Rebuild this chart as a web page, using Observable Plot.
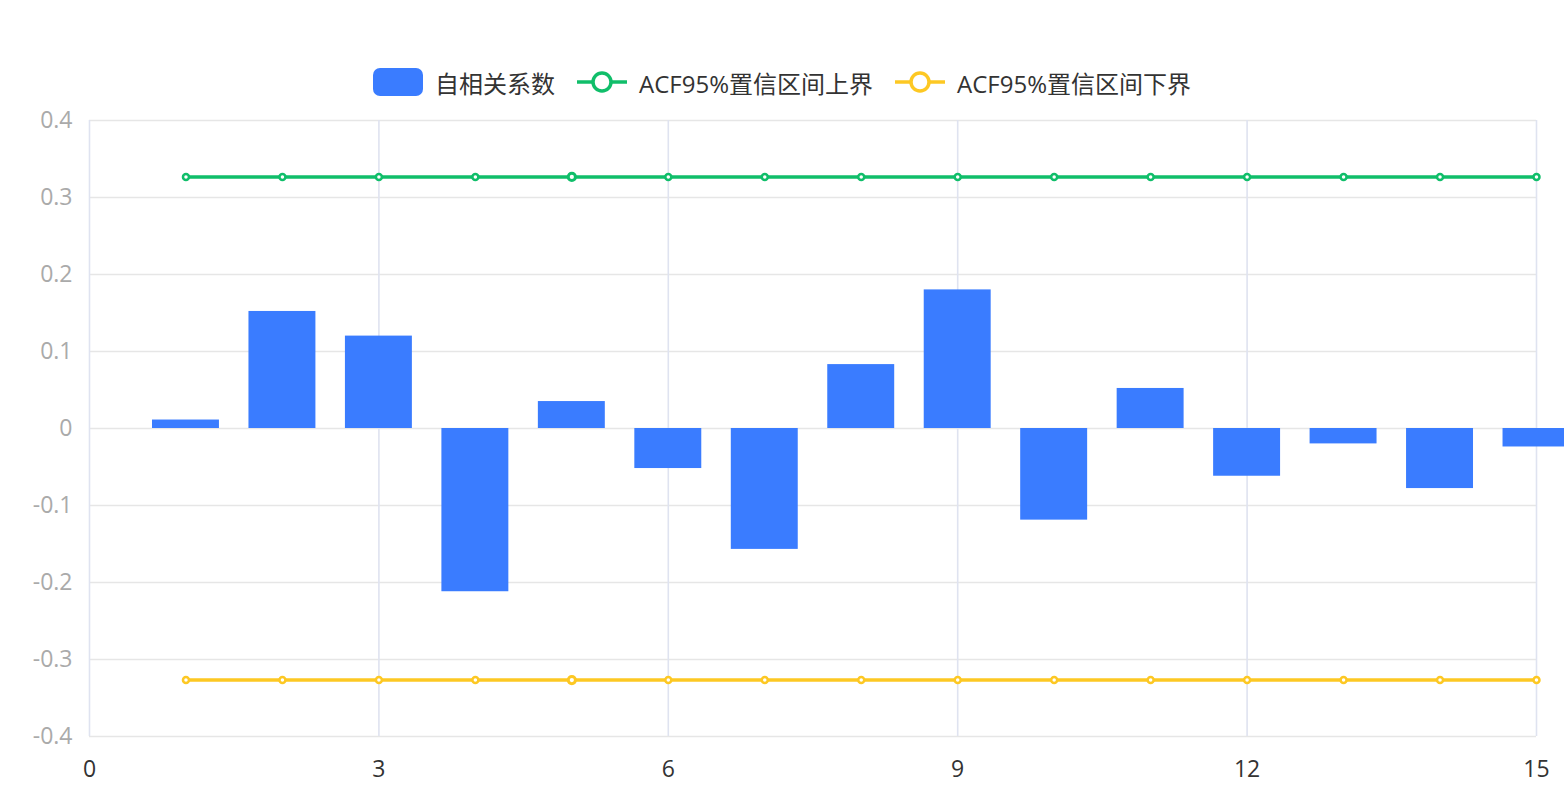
<!DOCTYPE html>
<html><head><meta charset="utf-8">
<script src="https://cdn.jsdelivr.net/npm/d3@7"></script>
<script src="https://cdn.jsdelivr.net/npm/@observablehq/plot@0.6"></script>
<style>
body{margin:0;background:#fff;font-family:"Open Sans","Noto Sans CJK SC","Noto Sans",sans-serif;}
#wrap{position:relative;width:1564px;height:799px;overflow:hidden;}
#legend{position:absolute;top:67px;left:0;width:1564px;height:30px;display:flex;justify-content:center;align-items:center;font-size:24px;color:#333;z-index:2;}
.item{display:flex;align-items:center;margin:0 11px;}
.item svg{margin-right:12px;}
</style>
</head><body>
<div id="wrap"><div id="legend"></div><div id="chart"></div></div>
<script>
const lags = [1,2,3,4,5,6,7,8,9,10,11,12,13,14,15];
const acf = [0.011,0.152,0.120,-0.212,0.035,-0.052,-0.157,0.083,0.180,-0.119,0.052,-0.062,-0.020,-0.078,-0.024];
const upperBound = [0.3267,0.3267,0.3267,0.3267,0.3267,0.3267,0.3267,0.3267,0.3267,0.3267,0.3267,0.3267,0.3267,0.3267,0.3267];
const lowerBound = [-0.3267,-0.3267,-0.3267,-0.3267,-0.3267,-0.3267,-0.3267,-0.3267,-0.3267,-0.3267,-0.3267,-0.3267,-0.3267,-0.3267,-0.3267];
const seriesNames = ["自相关系数","ACF95%置信区间上界","ACF95%置信区间下界"];
const xTicks = [0,3,6,9,12,15];
const yTicks = [-0.4,-0.3,-0.2,-0.1,0,0.1,0.2,0.3,0.4];
const highlightLag = 5;

const BLUE = "#3a7cff", GREEN = "#10be6a", YELLOW = "#fdc823";
const FONT = '"Open Sans","Noto Sans CJK SC","Noto Sans",sans-serif';
const data = lags.map((l,i)=>({lag:l, acf:acf[i], up:upperBound[i], lo:lowerBound[i]}));
const halfW = 0.347;

const chart = Plot.plot({
  width:1564, height:799,
  marginLeft:89, marginRight:28, marginTop:120, marginBottom:63,
  x:{domain:[0,15]},
  y:{domain:[-0.4,0.4]},
  style:{fontFamily:FONT, fontSize:"23px", background:"white", overflow:"visible"},
  marks:[
    Plot.gridY(yTicks,{stroke:"#e6e6e6",strokeOpacity:1,strokeWidth:1.6}),
    Plot.gridX(xTicks.filter(d=>d>0),{stroke:"#dfe3f0",strokeOpacity:1,strokeWidth:1.6}),
    Plot.ruleX([0],{stroke:"#dfe3f0",strokeWidth:1.6}),
    Plot.axisY(yTicks,{tickSize:0,tickPadding:17,fill:"#aaaaaa",tickFormat:d=>d===0?"0":d.toFixed(1),fontSize:23,label:null}),
    Plot.axisX(xTicks,{tickSize:0,tickPadding:24,fill:"#333333",fontSize:23,label:null}),
    Plot.rect(data,{x1:d=>d.lag-halfW,x2:d=>d.lag+halfW,y1:0,y2:"acf",fill:BLUE}),
    Plot.line(data,{x:"lag",y:"up",stroke:GREEN,strokeWidth:3.4}),
    Plot.line(data,{x:"lag",y:"lo",stroke:YELLOW,strokeWidth:3.4}),
    Plot.dot(data,{x:"lag",y:"up",r:d=>d.lag===highlightLag?5.8:4,fill:"white",stroke:GREEN,strokeWidth:d=>d.lag===highlightLag?3:2.5}),
    Plot.dot(data,{x:"lag",y:"lo",r:d=>d.lag===highlightLag?5.8:4,fill:"white",stroke:YELLOW,strokeWidth:d=>d.lag===highlightLag?3:2.5})
  ]
});
document.getElementById("chart").appendChild(chart);

// legend
const legend = document.getElementById("legend");
const colors = [BLUE, GREEN, YELLOW];
seriesNames.forEach((name,i)=>{
  const item = document.createElement("div");
  item.className = "item";
  let icon;
  if(i===0){
    icon = `<svg width="50" height="28"><rect x="0" y="0" width="50" height="28" rx="7" fill="${colors[i]}"/></svg>`;
  } else {
    icon = `<svg width="50" height="28"><line x1="0" x2="50" y1="14" y2="14" stroke="${colors[i]}" stroke-width="3.5"/><circle cx="25" cy="14" r="9" fill="white" stroke="${colors[i]}" stroke-width="3.5"/></svg>`;
  }
  item.innerHTML = icon + `<span>${name}</span>`;
  legend.appendChild(item);
});
</script>
</body></html>
